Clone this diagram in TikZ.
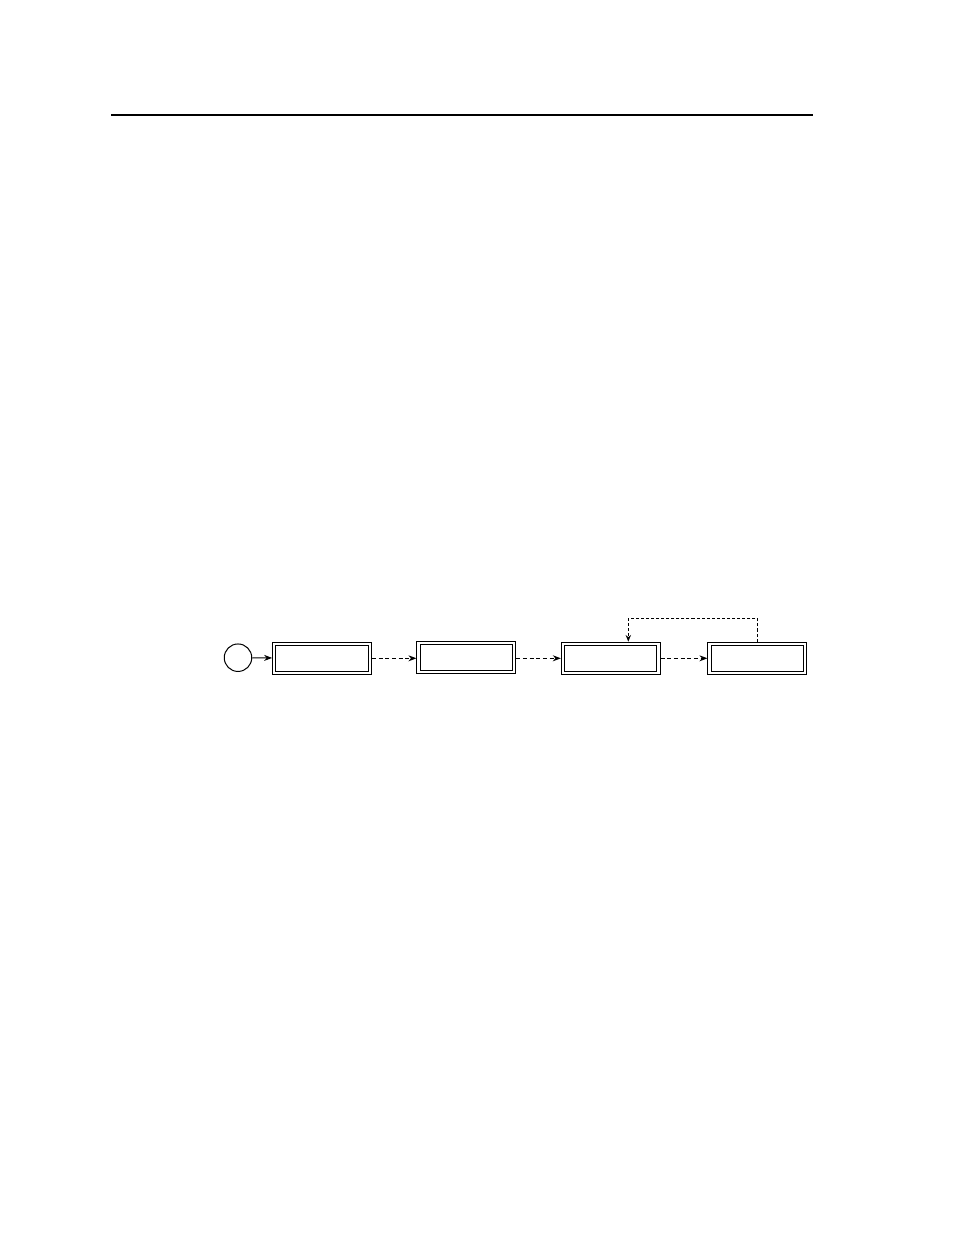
\documentclass[tikz,border=0pt]{standalone}
\usetikzlibrary{arrows.meta}
\begin{document}
\begin{tikzpicture}[x=0.75pt,y=-0.75pt,
  box/.style={draw=black,line width=0.75pt,double=white,double distance=1.6pt,
    minimum width=95.5*0.75pt,minimum height=29*0.75pt,inner sep=0pt,outer sep=1.6pt},
  startc/.style={circle,draw=black,line width=0.75pt,minimum size=27.5*0.75pt,inner sep=0pt},
  conn/.style={line width=0.75pt,-{Stealth[length=6pt,width=4.5pt]}},
  dconn/.style={conn,dash pattern=on 3pt off 2pt},
  loopconn/.style={line width=1.2pt,dash pattern=on 2.3pt off 1.5pt,-{Stealth[length=5pt,width=4pt]}}]
\useasboundingbox (0,0) rectangle (954,1235);
\draw[line width=1.6pt] (111,115) coordinate (rl) -- (813,115) coordinate (rr);
\node[startc] (s) at (238,657.7) {};
\node[box] (b1) at (322,658.3) {};
\node[box] (b2) at (466.3,657.3) {};
\node[box] (b3) at (610.7,658.3) {};
\node[box] (b4) at (757.3,658.3) {};
\draw[conn] (s) -- (b1);
\draw[dconn] (b1.east) -- (b1.east -| b2.west);
\draw[dconn] (b2.east |- b3.west) -- (b3.west);
\draw[dconn] (b3) -- (b4);
\coordinate (lp1) at (757.3,618.3);
\coordinate (lp2) at (628.3,618.3);
\draw[loopconn] (b4.north) -- (lp1) -- (lp2) -- (lp2 |- b3.north);
\end{tikzpicture}
\end{document}
